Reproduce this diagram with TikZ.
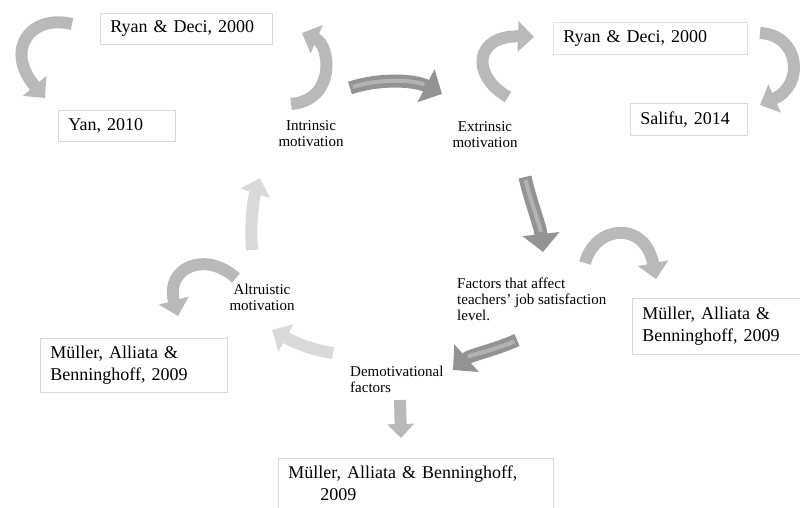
\documentclass[tikz,border=0pt]{standalone}
\usepackage{fontspec}
\setmainfont{Liberation Serif}
\usetikzlibrary{arrows.meta}

\definecolor{boxline}{HTML}{D9D9D9}
\definecolor{boxgreen}{HTML}{D5EBCF}

\begin{document}
\begin{tikzpicture}[x=1pt,y=-1pt,
            refbox/.style={draw=boxline,line width=0.8pt,anchor=north west,
                inner xsep=10pt,inner ysep=0pt,align=left,
                font=\fontsize{18}{22}\selectfont},
            label node/.style={inner sep=0pt,font=\fontsize{15}{16}\selectfont},
            soft arrow/.style={line width=12pt,draw=gray!55,
                -{Triangle[width=30pt,length=16pt]}},
            pale arrow/.style={line width=12pt,draw=gray!30,
                -{Triangle[width=30pt,length=16pt]}},
            shiny arrow/.style={line width=13pt,draw=gray!85,
                -{Triangle[width=36pt,length=18pt]},
                postaction={draw=white,line width=4pt,opacity=0.3,-,shorten >=20pt,shorten <=3pt}},
            ]
            \useasboundingbox (0,0) rectangle (800,507);

            % reference boxes
            \node[refbox, text width=152pt, minimum height=31pt] (ryan1) at (100,13) {Ryan \& Deci, 2000};
            \node[refbox, text width=97pt, minimum height=31pt] (yan) at (58,110) {Yan, 2010};
            \node[refbox, draw=boxgreen, text width=174pt, minimum height=32pt] (ryan2) at (553,22) {Ryan \& Deci, 2000};
            \node[refbox, text width=97pt, minimum height=32pt] (salifu) at (630,103) {Salifu, 2014};
            \node[refbox, text width=160pt, minimum height=56pt] (muller1) at (632,298) {Müller, Alliata \&\\Benninghoff, 2009};
            \node[refbox, text width=167pt, minimum height=54pt] (muller2) at (40,338) {Müller, Alliata \&\\Benninghoff, 2009};
            \node[refbox, text width=255pt, minimum height=50pt] (muller3) at (278,458) {Müller, Alliata \& Benninghoff,\\\hspace*{32pt}2009};

            % the cycle
            \node[label node, align=center] (intr) at (311,134) {Intrinsic\\motivation};
            \node[label node, align=center] (extr) at (485,135) {Extrinsic\\motivation};
            \node[label node, align=left, anchor=west] (fact) at (457,299) {Factors that affect\\teachers’ job satisfaction\\level.};
            \node[label node, align=left, anchor=west] (demot) at (350,379) {Demotivational\\factors};
            \node[label node, align=center] (altr) at (262,297) {Altruistic\\motivation};

            % arrow ends
            \coordinate (a1) at (72,24);   \coordinate (b1) at (45,98);
            \coordinate (a2) at (291,104); \coordinate (b2) at (302,33);
            \coordinate (a3) at (350,88);  \coordinate (b3) at (442,94);
            \coordinate (a4) at (508,97);  \coordinate (b4) at (534,37);
            \coordinate (a5) at (760,33);  \coordinate (b5) at (760,105);
            \coordinate (a6) at (525,177); \coordinate (b6) at (543,252);
            \coordinate (a7) at (585,263); \coordinate (b7) at (656,279);
            \coordinate (a8) at (517,340); \coordinate (b8) at (453,370);
            \coordinate (a9) at (333,353); \coordinate (b9) at (272,330);
            \coordinate (a10) at (236,278); \coordinate (b10) at (178,316);
            \coordinate (a11) at (252,250); \coordinate (b11) at (260,178);
            \coordinate (a12) at (400,400); \coordinate (b12) at (401,438);

            \draw[soft arrow] (a1) .. controls (30,14) and (4,50) .. (b1);
            \draw[soft arrow] (a2) .. controls (337,100) and (330,45) .. (b2);
            \draw[shiny arrow] (a3) .. controls (380,78) and (415,80) .. (b3);
            \draw[soft arrow] (a4) .. controls (470,75) and (475,35) .. (b4);
            \draw[soft arrow] (a5) .. controls (800,35) and (805,85) .. (b5);
            \draw[shiny arrow] (a6) .. controls (530,200) and (540,225) .. (b6);
            \draw[soft arrow] (a7) .. controls (595,225) and (645,220) .. (b7);
            \draw[shiny arrow] (a8) .. controls (495,350) and (470,355) .. (b8);
            \draw[pale arrow] (a9) .. controls (310,350) and (290,340) .. (b9);
            \draw[soft arrow] (a10) .. controls (205,250) and (165,268) .. (b10);
            \draw[pale arrow] (a11) .. controls (250,225) and (253,200) .. (b11);
            \draw[soft arrow, -{Triangle[width=26pt,length=14pt]}] (a12) -- (b12);
        \end{tikzpicture}
\end{document}
